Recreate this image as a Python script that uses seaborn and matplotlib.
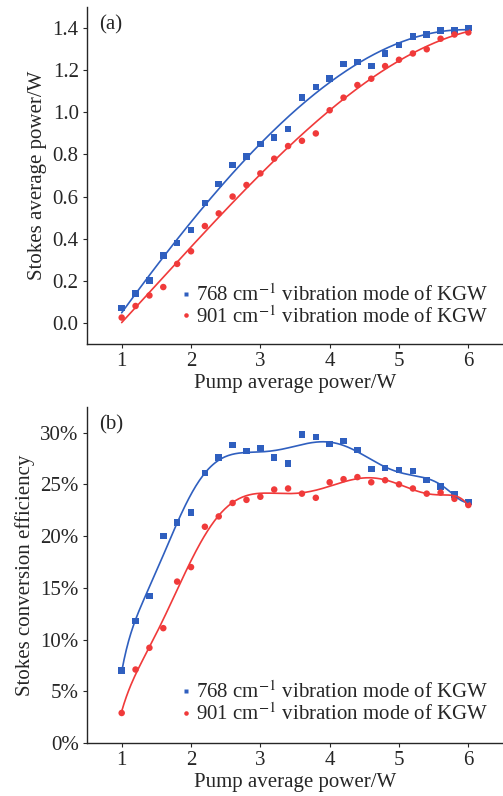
import numpy as np
import pandas as pd
import matplotlib
matplotlib.use('Agg')
import matplotlib.pyplot as plt
import matplotlib.ticker as mticker
import seaborn as sns

# --- Data ---
pump_power = np.round(np.arange(1.0, 6.01, 0.2), 1)

# (a) Stokes average power / W
power_768 = [0.07, 0.14, 0.20, 0.32, 0.38, 0.44, 0.57, 0.66, 0.75, 0.79,
             0.85, 0.88, 0.92, 1.07, 1.12, 1.16, 1.23, 1.24, 1.22, 1.28,
             1.32, 1.36, 1.37, 1.39, 1.39, 1.40]
power_901 = [0.025, 0.08, 0.13, 0.17, 0.28, 0.34, 0.46, 0.52, 0.60, 0.655,
             0.71, 0.78, 0.84, 0.865, 0.90, 1.01, 1.07, 1.13, 1.16, 1.22,
             1.25, 1.28, 1.30, 1.35, 1.37, 1.38]

# (b) Stokes conversion efficiency / %
eff_768 = [7.0, 11.8, 14.2, 20.0, 21.3, 22.3, 26.1, 27.6, 28.8, 28.2,
           28.5, 27.6, 27.0, 29.8, 29.6, 28.9, 29.2, 28.3, 26.5, 26.6,
           26.4, 26.3, 25.4, 24.8, 24.0, 23.3]
eff_901 = [2.9, 7.1, 9.2, 11.1, 15.6, 17.0, 20.9, 21.9, 23.2, 23.5,
           23.8, 24.5, 24.6, 24.1, 23.7, 25.2, 25.5, 25.7, 25.2, 25.4,
           25.0, 24.6, 24.1, 24.2, 23.6, 23.0]

series_labels = [r'768 cm$^{-1}$ vibration mode of KGW',
                 r'901 cm$^{-1}$ vibration mode of KGW']
BLUE = '#2f5fbf'
RED = '#f03a3a'

sns.set_style('ticks')
plt.rcParams['font.family'] = ['Liberation Serif', 'DejaVu Serif']
plt.rcParams['mathtext.fontset'] = 'stix'
plt.rcParams['axes.linewidth'] = 1.0


def fit_curve(x, y, deg):
    # polynomial fit evaluated on a dense grid
    xs = (np.asarray(x) - 3.5) / 2.5
    coef = np.polyfit(xs, y, deg)
    xx = np.linspace(min(x), max(x), 300)
    return xx, np.polyval(coef, (xx - 3.5) / 2.5)


def draw_panel(ax, y1, y2, degs, leg_y):
    df = pd.DataFrame({
        'x': np.concatenate([pump_power, pump_power]),
        'y': np.concatenate([y1, y2]),
        'series': [series_labels[0]] * len(y1) + [series_labels[1]] * len(y2),
    })
    for y, color, deg in [(y1, BLUE, degs[0]), (y2, RED, degs[1])]:
        xx, yy = fit_curve(pump_power, y, deg)
        sns.lineplot(x=xx, y=yy, color=color, lw=1.2, ax=ax, legend=False)
    sns.scatterplot(data=df, x='x', y='y', hue='series', style='series',
                    palette=[BLUE, RED], markers=['s', 'o'], s=22,
                    edgecolor='none', ax=ax)
    ax.set_xlim(0.5, 6.5)
    ax.set_xticks([1, 2, 3, 4, 5, 6])
    sns.despine(ax=ax)
    ax.tick_params(labelsize=15, length=3, width=0.8, direction='out', pad=3)
    ax.set_xlabel('Pump average power/W', fontsize=15, labelpad=2)
    leg = ax.legend(loc='lower right', bbox_to_anchor=(1.0, leg_y), frameon=False,
                    fontsize=15, handletextpad=0.0, handlelength=1.0,
                    labelspacing=0.0, borderpad=0.2, markerscale=0.7)
    return leg


fig = plt.figure(figsize=(5.03, 7.96), dpi=100)
ax_a = fig.add_axes([0.173, 0.568, 0.827, 0.423])
ax_b = fig.add_axes([0.173, 0.0666, 0.827, 0.4224])

draw_panel(ax_a, power_768, power_901, (3, 3), 0.005)
ax_a.set_ylim(-0.1, 1.5)
ax_a.set_yticks(np.arange(0, 1.41, 0.2))
ax_a.yaxis.set_major_formatter(mticker.FormatStrFormatter('%.1f'))
ax_a.set_ylabel('Stokes average power/W', fontsize=15, labelpad=4)
ax_a.text(0.03, 0.975, '(a)', transform=ax_a.transAxes, fontsize=15, va='top')

draw_panel(ax_b, eff_768, eff_901, (9, 8), 0.01)
ax_b.set_ylim(0, 32.5)
ax_b.set_yticks(np.arange(0, 31, 5))
ax_b.yaxis.set_major_formatter(mticker.FuncFormatter(lambda v, p: f'{v:.0f}%'))
ax_b.set_ylabel('Stokes conversion efficiency', fontsize=15, labelpad=4)
ax_b.text(0.03, 0.975, '(b)', transform=ax_b.transAxes, fontsize=15, va='top')

fig.savefig('out.png', dpi=100)
